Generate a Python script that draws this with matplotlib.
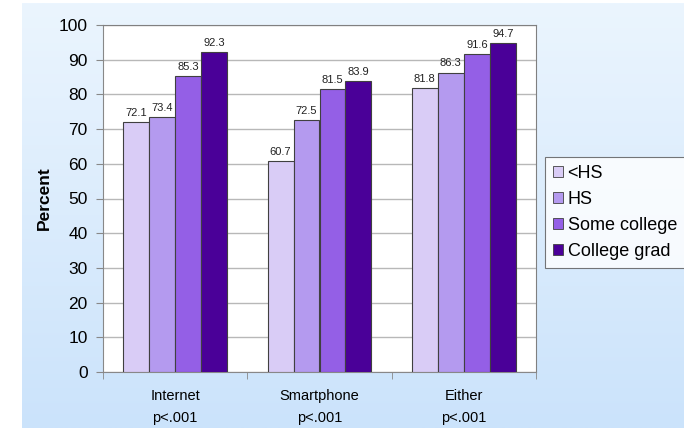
import numpy as np
import matplotlib.pyplot as plt

plt.rcParams['font.family'] = ['Liberation Sans', 'DejaVu Sans']

groups = ['Internet\np<.001', 'Smartphone\np<.001', 'Either\np<.001']
series = ['<HS', 'HS', 'Some college', 'College grad']
lt_hs = [72.1, 60.7, 81.8]
hs = [73.4, 72.5, 86.3]
some_college = [85.3, 81.5, 91.6]
college_grad = [92.3, 83.9, 94.7]
colors = ['#D9CCF6', '#B49AEF', '#945FE6', '#4A0098']
yticks = list(range(0, 101, 10))

fig = plt.figure(figsize=(6.84, 4.28), dpi=100)
fig.patch.set_facecolor('white')

# blue gradient panel behind the chart
bg = fig.add_axes([22 / 684, 0, 1 - 22 / 684, 1 - 3 / 428])
top = np.array([0xEB, 0xF5, 0xFE]) / 255
bot = np.array([0xCB, 0xE3, 0xFB]) / 255
t = np.linspace(0, 1, 256)[:, None]
grad = top * (1 - t) + bot * t
bg.imshow(grad[:, None, :], aspect='auto', extent=[0, 1, 0, 1])
bg.axis('off')

ax = fig.add_axes([103 / 684, 1 - 372 / 428, (536 - 103) / 684, (372 - 25) / 428])
ax.set_facecolor('white')

x = np.arange(len(groups))
w = 0.18
data = [lt_hs, hs, some_college, college_grad]
for i, (vals, c, name) in enumerate(zip(data, colors, series)):
    pos = x + (i - 1.5) * w
    bars = ax.bar(pos, vals, w, color=c, edgecolor='#404040', linewidth=0.8,
                  label=name, zorder=3)
    for b, v in zip(bars, vals):
        ax.text(b.get_x() + b.get_width() / 2, v + 1.2, f'{v:.1f}',
                ha='center', va='bottom', fontsize=8, color='#222222')

ax.set_xlim(-0.5, 2.5)
ax.set_ylim(0, 100)
ax.set_yticks(yticks)
ax.tick_params(axis='y', labelsize=12.5, length=5, color='#888888', pad=6)
ax.yaxis.grid(True, color='#b8b8b8', linewidth=1, zorder=0)
ax.set_xticks(x)
ax.set_xticklabels(groups, fontsize=10.5, linespacing=1.75)
ax.tick_params(axis='x', length=0, pad=12)
# category separators below the axis
ax.set_xticks([-0.5, 0.5, 1.5, 2.5], minor=True)
ax.tick_params(axis='x', which='minor', length=5, color='#888888')
for s in ['left', 'bottom']:
    ax.spines[s].set_color('#888888')
for s in ['top', 'right']:
    ax.spines[s].set_color('#808080')
ax.set_ylabel('Percent', fontsize=12.5, fontweight='bold', labelpad=5)

leg = fig.legend(loc='upper left', bbox_to_anchor=(545 / 684, 1 - 157 / 428),
                 fontsize=13, frameon=True, fancybox=False, edgecolor='#555555',
                 handlelength=0.55, handleheight=0.55, handletextpad=0.25,
                 borderpad=0.45, labelspacing=0.5, borderaxespad=0)
leg.get_frame().set_linewidth(0.8)
for h in leg.legend_handles:
    h.set_linewidth(0.6)

fig.savefig('out.png', dpi=100, facecolor='white')
